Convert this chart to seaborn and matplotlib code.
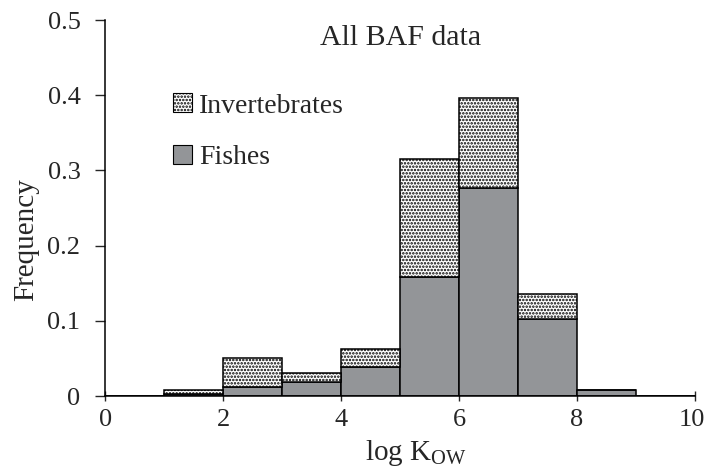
import numpy as np
import pandas as pd
import seaborn as sns
import matplotlib.pyplot as plt
from matplotlib.patches import Patch
from matplotlib.transforms import ScaledTranslation

# frequency of each log Kow bin (bin width 1, from 0 to 10)
bin_left = [0, 1, 2, 3, 4, 5, 6, 7, 8, 9]
fishes = [0, 0.003, 0.012, 0.018, 0.039, 0.158, 0.277, 0.103, 0.008, 0]
invertebrates = [0, 0.005, 0.039, 0.013, 0.023, 0.157, 0.119, 0.033, 0, 0]
x_ticks = [0, 2, 4, 6, 8, 10]
y_ticks = [0, 0.1, 0.2, 0.3, 0.4, 0.5]
y_labels = ['0', '0.1', '0.2', '0.3', '0.4', '0.5']

centers = [b + 0.5 for b in bin_left]
df = pd.DataFrame({
    'logkow': centers + centers,
    'freq': fishes + invertebrates,
    'group': ['Fishes'] * len(centers) + ['Invertebrates'] * len(centers),
})

sns.set_style('ticks')
plt.rcParams['font.family'] = ['Liberation Serif', 'DejaVu Serif']
plt.rcParams['mathtext.fontset'] = 'custom'
plt.rcParams['mathtext.rm'] = 'Liberation Serif'
plt.rcParams['hatch.color'] = 'black'
plt.rcParams['hatch.linewidth'] = 1.2

fig = plt.figure(figsize=(7.06, 4.70), dpi=100)
ax = fig.add_axes([0.1494, 0.1574, 0.835, 0.80])

colour_scheme = {'Fishes': '#939598', 'Invertebrates': 'white'}
sns.histplot(data=df, x='logkow', weights='freq', hue='group',
             hue_order=['Invertebrates', 'Fishes'], bins=10, binrange=(0, 10),
             multiple='stack', palette=colour_scheme, alpha=1,
             edgecolor='black', linewidth=1.1, legend=False, ax=ax)

# dotted fill for the invertebrate bars
for p in ax.patches:
    if tuple(p.get_facecolor()[:3]) == (1.0, 1.0, 1.0):
        p.set_hatch('.....')

ax.set_xlim(0, 10)
ax.set_ylim(0, 0.5)
ax.set_xticks(x_ticks)
ax.set_xticklabels([str(t) for t in x_ticks])
ax.set_yticks(y_ticks)
ax.set_yticklabels(y_labels)
ax.tick_params(axis='y', direction='out', length=7, width=1, pad=11, labelsize=19)
ax.tick_params(axis='x', direction='inout', length=7, width=1, pad=6, labelsize=19)
# keep the "10" inside the picture
last = ax.get_xticklabels()[-1]
last.set_transform(last.get_transform() + ScaledTranslation(-0.03, 0, fig.dpi_scale_trans))
for s in ['top', 'right']:
    ax.spines[s].set_visible(False)
for s in ['left', 'bottom']:
    ax.spines[s].set_linewidth(1.1)
    ax.spines[s].set_color('black')

ax.set_xlabel(r'log K$_{\mathrm{OW}}$', fontsize=21)
ax.xaxis.set_label_coords(0.527, -0.112)
ax.set_ylabel('Frequency', fontsize=21)
ax.yaxis.set_label_coords(-0.112, 0.415)

ax.text(0.5, 0.9335, 'All BAF data', transform=ax.transAxes,
        ha='center', va='baseline', fontsize=21.5)

handles = [Patch(facecolor='white', edgecolor='black', hatch='.....', linewidth=0.8),
           Patch(facecolor='#939598', edgecolor='black', linewidth=0.8)]
ax.legend(handles, ['Invertebrates', 'Fishes'], loc='upper left',
          bbox_to_anchor=(0.1145, 0.805), frameon=False, fontsize=20,
          handlelength=0.68, handleheight=0.68, handletextpad=0.26,
          labelspacing=0.95, borderpad=0, borderaxespad=0)

plt.savefig('out.png', dpi=100)
